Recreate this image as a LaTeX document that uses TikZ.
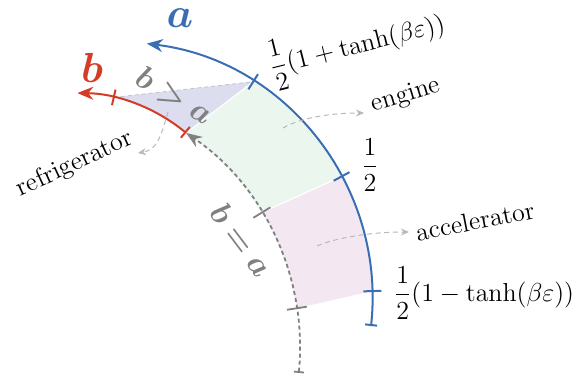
\RequirePackage{fix-cm}
\documentclass[tikz,border=0pt]{standalone}
\usepackage{amsmath, amssymb, bm}
\usepackage{tikz}
\usetikzlibrary{arrows.meta, calc}
\usepackage{xcolor}
\definecolor{ablue}{HTML}{3A6EB4}
\definecolor{bred}{HTML}{D43C28}
\definecolor{fridgefill}{HTML}{DCDDEF}
\definecolor{enginefill}{HTML}{EBF6EE}
\definecolor{accelfill}{HTML}{F3E8F2}
\tikzset{
  lbl/.style={font=\fontsize{13}{15}\selectfont},
  biglbl/.style={font=\fontsize{21}{24}\selectfont},
  cmplbl/.style={gray, font=\fontsize{16}{18}\selectfont},
  hint/.style={gray!55, line width=0.5pt, dash pattern=on 2.5pt off 1.8pt, -{Stealth[length=4pt,width=3.5pt]}},
}

\begin{document}
\begin{tikzpicture}[x=0.5pt,y=0.5pt]
  \useasboundingbox (0,0) rectangle (588,-376);
  % centres and points of the arcs
  \coordinate (cA) at (115.5,-298.7);
  \coordinate (cE) at (40,-348);
  \coordinate (a0) at ($(cA)+(-6.1:257)$);
  \coordinate (a1) at ($(cA)+(1.7:257)$);
  \coordinate (a2) at ($(cA)+(28.4:257)$);
  \coordinate (a3) at ($(cA)+(57.6:257)$);
  \coordinate (e0) at ($(cE)+(-5.5:260)$);
  \coordinate (e1) at ($(cE)+(8.8:260)$);
  \coordinate (e2) at ($(cE)+(31.4:260)$);
  \coordinate (e3) at ($(cE)+(55.8:260)$);
  \coordinate (cR) at ($(e3)-(50.4:174)$);
  \coordinate (r1) at ($(cR)+(77.2:174)$);

  % regions
  \fill[accelfill] (a2) arc[start angle=28.4, end angle=1.7, radius=257] -- (e1)
    arc[start angle=8.8, end angle=31.4, radius=260] -- cycle;
  \fill[enginefill] (a3) arc[start angle=57.6, end angle=28.4, radius=257] -- (e2)
    arc[start angle=31.4, end angle=55.8, radius=260] -- cycle;
  \fill[fridgefill] (e3) arc[start angle=50.4, end angle=77.2, radius=174] -- (a3) -- cycle;
  \draw[white, line width=0.6pt] (a2) -- (e2) (a3) -- (e3);
  \draw[fridgefill!70!gray, line width=0.4pt, dash pattern=on 2pt off 1.5pt] (r1) -- (a3);

  % arcs
  \draw[gray, line width=0.9pt, dash pattern=on 2pt off 1.5pt, {Bar[width=5pt]}-{Stealth[length=8pt,width=6pt]}]
    (e0) arc[start angle=-5.5, end angle=55.8, radius=260];
  \foreach \t in {8.8, 31.4}
    \draw[gray, line width=0.9pt] ($(cE)+(\t:250)$) -- ($(cE)+(\t:270)$);
  \draw[ablue, line width=1pt, {Bar[width=6pt]}-{Stealth[length=8pt,width=6.5pt]}]
    (a0) arc[start angle=-6.1, end angle=83, radius=257];
  \foreach \t in {1.7, 28.4, 57.6}
    \draw[ablue, line width=1pt] ($(cA)+(\t:248)$) -- ($(cA)+(\t:266)$);
  \draw[bred, line width=1pt, {Bar[width=7pt]}-{Stealth[length=8pt,width=6.5pt]}]
    (e3) arc[start angle=50.4, end angle=89.3, radius=174];
  \draw[bred, line width=1pt] ($(cR)+(77.2:166)$) -- ($(cR)+(77.2:182)$);

  % labels
  \node[biglbl, ablue] (alab) at (180,-18) {$\bm{a}$};
  \node[biglbl, bred] (blab) at (92,-68) {$\bm{b}$};
  \node[cmplbl, rotate=-30] (bgta) at (174,-96) {$\bm{b}\bm{>}\bm{a}$};
  \node[cmplbl, rotate=-53] (beqa) at (242,-240) {$\bm{b}\bm{=}\bm{a}$};
  \node[lbl, rotate=14] (plus) at (357,-45) {$\dfrac{1}{2}(1+\tanh(\beta\varepsilon))$};
  \node[lbl] (half) at (370,-165) {$\dfrac{1}{2}$};
  \node[lbl] (minus) at (484,-293) {$\dfrac{1}{2}(1-\tanh(\beta\varepsilon))$};
  \node[lbl, rotate=17] (engine) at (406,-96) {engine};
  \node[lbl, rotate=11] (accel) at (475,-221) {accelerator};
  \node[lbl, rotate=25] (fridge) at (75,-164) {refrigerator};

  % pointers to the regions
  \coordinate (rf0) at (168,-112); \coordinate (rf1) at (138,-153);
  \coordinate (en0) at (283,-128); \coordinate (en1) at (364,-113);
  \coordinate (ac0) at (317,-246); \coordinate (ac1) at (409,-232);
  \draw[hint] (rf0) .. controls (160,-140) and (156,-150) .. (rf1);
  \draw[hint] (en0) .. controls (300,-118) and (330,-113) .. (en1);
  \draw[hint] (ac0) .. controls (335,-238) and (370,-232) .. (ac1);
\end{tikzpicture}
\end{document}
